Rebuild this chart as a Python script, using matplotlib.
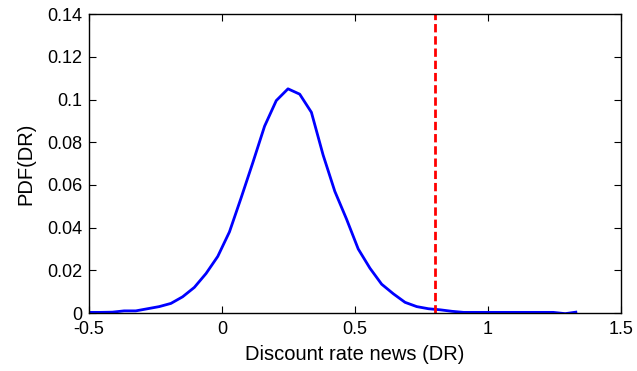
import matplotlib.pyplot as plt
import numpy as np

plt.rcParams["font.family"] = ["Liberation Sans", "DejaVu Sans"]

# discount rate news grid and estimated density
dr = [-0.5, -0.456, -0.412, -0.368, -0.324, -0.28, -0.236, -0.192, -0.148,
      -0.104, -0.06, -0.016, 0.028, 0.072, 0.116, 0.16, 0.204, 0.248, 0.292,
      0.336, 0.38, 0.424, 0.468, 0.512, 0.556, 0.6, 0.644, 0.688, 0.732,
      0.776, 0.82, 0.864, 0.908, 0.952, 0.996, 1.04, 1.084, 1.128, 1.172,
      1.216, 1.245, 1.29, 1.33]
pdf = [0.0003, 0.0003, 0.0004, 0.001, 0.001, 0.002, 0.003, 0.0045, 0.0076,
       0.012, 0.0185, 0.0265, 0.038, 0.054, 0.0705, 0.0875, 0.0995, 0.105,
       0.1025, 0.094, 0.074, 0.057, 0.044, 0.030, 0.021, 0.0135, 0.009,
       0.005, 0.003, 0.002, 0.0015, 0.0008, 0.0003, 0.0003, 0.0003, 0.0003,
       0.0003, 0.0003, 0.0003, 0.0003, 0.0003, -0.0003, 0.0004]
observed = 0.8

xticks = [-0.5, 0, 0.5, 1, 1.5]
xlabels = ["-0.5", "0", "0.5", "1", "1.5"]
yticks = [0, 0.02, 0.04, 0.06, 0.08, 0.1, 0.12, 0.14]
ylabels = ["0", "0.02", "0.04", "0.06", "0.08", "0.1", "0.12", "0.14"]

fig = plt.figure(figsize=(6.37, 3.71), dpi=100)
ax = fig.add_axes([0.1397, 0.1563, 0.8353, 0.8057])

ax.plot(dr, pdf, color="#0000ff", lw=2)
ax.axvline(observed, color="#ff0000", lw=2, ls=(0, (3, 1.4)))

ax.set_xlim(-0.5, 1.5)
ax.set_ylim(0, 0.14)
ax.set_xticks(xticks)
ax.set_xticklabels(xlabels)
ax.set_yticks(yticks)
ax.set_yticklabels(ylabels)
ax.tick_params(direction="in", top=True, right=True, labelsize=13, length=5, width=0.8)
ax.tick_params(axis="x", pad=6)
ax.tick_params(axis="y", pad=5)
for s in ax.spines.values():
    s.set_linewidth(1)

ax.set_xlabel("Discount rate news (DR)", fontsize=14.5, labelpad=5)
ax.set_ylabel("PDF(DR)", fontsize=14.5, labelpad=8)

fig.savefig("out.png", dpi=100)
